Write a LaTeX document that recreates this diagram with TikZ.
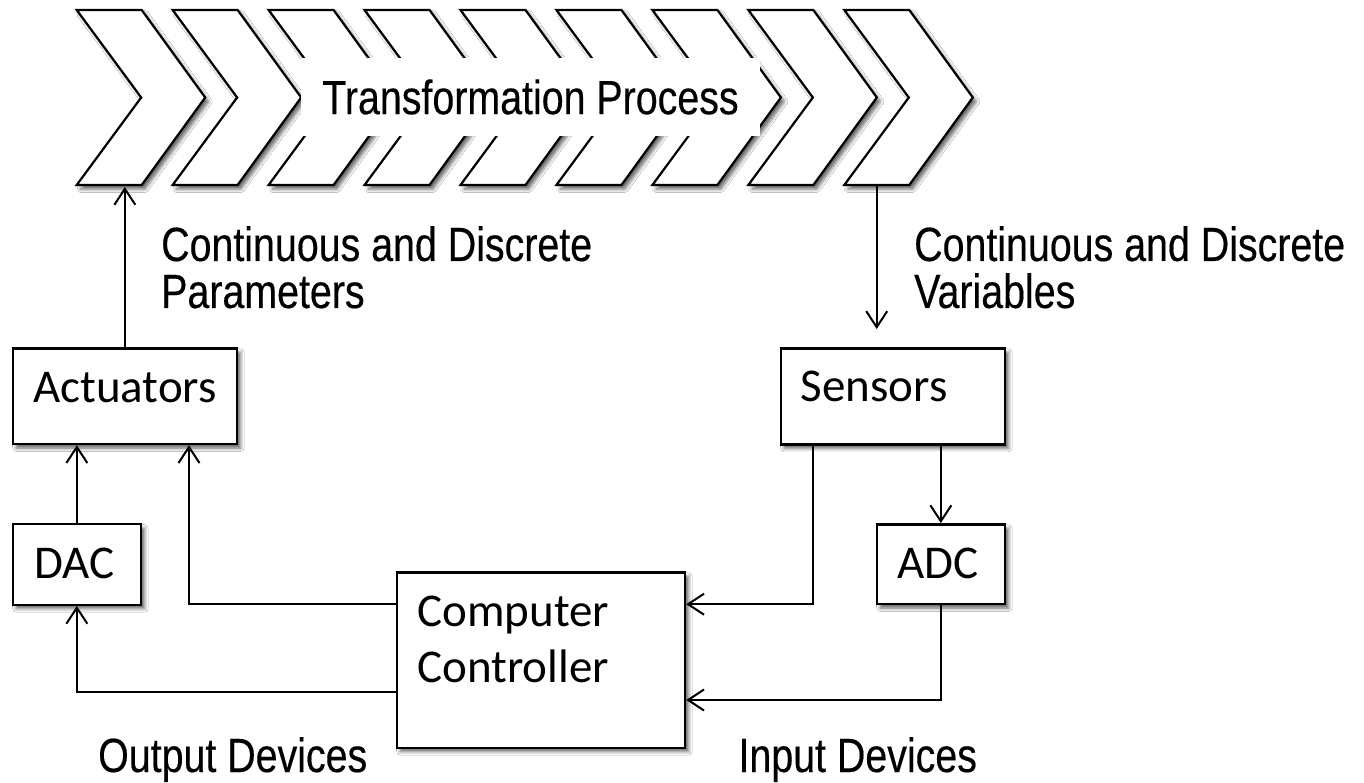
\documentclass[tikz,border=0pt]{standalone}
\usepackage{fontspec}
\setmainfont{Carlito}
\newfontfamily\narrowsans[FakeStretch=0.82,FakeBold=0.3]{Liberation Sans}
\usetikzlibrary{arrows.meta,shadows.blur}

\begin{document}
\begin{tikzpicture}[x=1pt,y=-1pt,
  softshadow/.style={blur shadow={shadow xshift=3.5pt,shadow yshift=-4pt,shadow blur radius=3.5pt,shadow opacity=60}},
  chev/.style={draw=black,fill=white,line width=2.2pt,line join=miter,softshadow},
  box/.style={draw=black,fill=white,line width=2.4pt,rectangle,inner sep=0pt,softshadow},
  boxtext/.style={font=\fontsize{47}{56}\selectfont,anchor=base west,inner sep=0pt,align=left},
  lbl/.style={font=\narrowsans\fontsize{48}{47}\selectfont,anchor=base west,inner sep=0pt,align=left},
  link/.style={line width=2pt},
  arr/.style={link,-{Straight Barb[length=16pt,width=21pt]}}
]
% canvas
\fill[white] (0,0) rectangle (1364,783);
\useasboundingbox (0,0) rectangle (1364,783);

% chain of chevrons for the process
\foreach \k in {0,...,8} {
  \pgfmathsetmacro\L{76.7+95.95*\k}
  \draw[chev] (\L,10) -- ++(65,0) -- ++(63.5,87.5) -- ++(-63.5,87.5)
              -- ++(-65,0) -- ++(64.5,-87.5) -- cycle;
}
\node[fill=white,inner sep=0pt,minimum width=459pt,minimum height=78pt,
      font=\narrowsans\fontsize{48}{47}\selectfont] (tp) at (530.5,97) {Transformation Process};

% blocks
\node[box,minimum width=224.3pt,minimum height=95.7pt] (act) at (124.85,396.15) {};
\node[box,minimum width=224.3pt,minimum height=96pt]   (sen) at (892.85,396.3) {};
\node[box,minimum width=128.3pt,minimum height=80.7pt] (dac) at (76.85,564.35) {};
\node[box,minimum width=128.3pt,minimum height=79.7pt] (adc) at (940.85,564.15) {};
\node[box,minimum width=288.3pt,minimum height=175.4pt] (cc)  at (540.85,660) {};

% block captions (base anchor sits on the last line)
\node[boxtext] (actT) at (33,402.7) {Actuators};
\node[boxtext] (senT) at (800.7,401.7) {Sensors};
\node[boxtext] (dacT) at (34,578) {DAC};
\node[boxtext] (adcT) at (897.3,578.3) {ADC};
\node[boxtext] (ccT)  at (417.3,682.7) {Computer\\Controller};

% labels
\node[lbl] (parT) at (161,308) {Continuous and Discrete\\Parameters};
\node[lbl] (varT) at (914,308) {Continuous and Discrete\\Variables};
\node[lbl] (outT) at (98,772) {Output Devices};
\node[lbl] (inT)  at (738.3,772) {Input Devices};

% connector helpers
\coordinate (upEnd) at (124.85,187);
\coordinate (downStart) at (876.7,186);
\coordinate (downEnd) at (876.7,329);
\coordinate (rowA) at (0,604.2);
\coordinate (rowB) at (0,691.7);
\coordinate (rowC) at (0,700);
\coordinate (colA) at (189,0);
\coordinate (colS) at (812.7,0);

% connectors
\draw[arr] (act.north) -- (upEnd);
\draw[arr] (downStart) -- (downEnd);
\draw[arr] (dac.north) -- (act.south -| dac.north);
\draw[arr] (cc.west |- rowA) -| (act.south -| colA);
\draw[arr] (cc.west |- rowB) -| (dac.south);
\draw[arr] (sen.south -| colS) |- (cc.east |- rowA);
\draw[arr] (sen.south -| adc.north) -- (adc.north);
\draw[arr] (adc.south) |- (cc.east |- rowC);
\end{tikzpicture}
\end{document}
